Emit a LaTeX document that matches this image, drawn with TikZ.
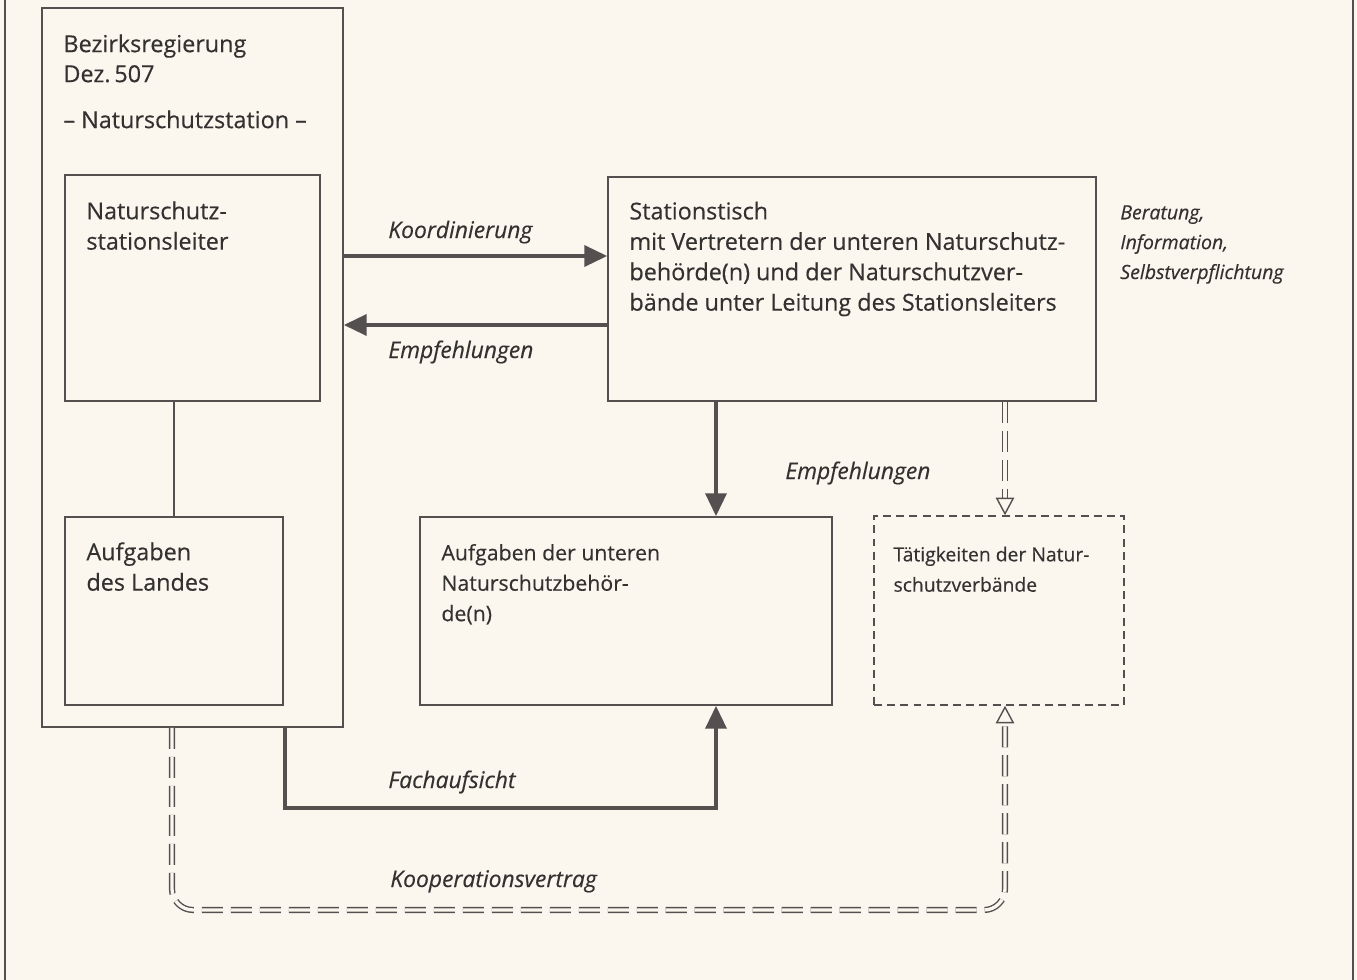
\documentclass[tikz,border=0pt]{standalone}
\usepackage{fontspec}
\setmainfont{Open Sans}[FakeBold=0.35]
\usepackage{tikz}
\usetikzlibrary{arrows.meta,calc,fit}

\definecolor{paper}{RGB}{251,246,238}
\definecolor{ink}{RGB}{52,49,49}
\definecolor{rule}{RGB}{84,80,80}

\tikzset{
  box/.style={draw=rule, line width=1pt, inner sep=0pt},
  dashbox/.style={box, line width=0.9pt, dash pattern=on 4.5pt off 3pt},
  txt/.style={anchor=base west, inner sep=0pt, text=ink, font=\fontsize{13.3}{17.3}\selectfont, align=left},
  smalltxt/.style={txt, font=\fontsize{12.1}{17.3}\selectfont},
  tinytxt/.style={txt, font=\fontsize{11}{17.3}\selectfont},
  lbl/.style={txt, font=\fontsize{13}{17.3}\selectfont\itshape},
  sidelbl/.style={txt, font=\fontsize{11.1}{17}\selectfont\itshape},
  arr/.style={draw=rule, line width=1.9pt, -{Triangle[length=13pt, width=12pt]}},
  dbl/.style={draw=rule, line width=0.8pt, double=paper, double distance=1.9pt,
    dash pattern=on 12pt off 4.5pt},
  openarr/.style={-{Triangle[open, length=10pt, width=10.5pt, line width=0.8pt]}}
}

\begin{document}
\begin{tikzpicture}[x=0.02cm, y=-0.02cm]
  % paper and frame
  \fill[paper] (0,0) rectangle (1357,980);
  \useasboundingbox (0,0) rectangle (1357,980);
  \draw[rule, line width=0.9pt] (5,0) -- (5,980);
  \draw[rule, line width=0.9pt] (1353,0) -- (1353,980);

  % boxes
  \node[box, fit={(42,8) (343,727)}] (bez) {};
  \node[box, fit={(65,175) (320,401)}] (leiter) {};
  \node[box, fit={(65,517) (283,705)}] (land) {};
  \node[box, fit={(608,177) (1096,401)}] (tisch) {};
  \node[box, fit={(420,517) (832,705)}] (unb) {};
  \node[dashbox, fit={(874,516) (1124,705)}] (verb) {};

  % texts (multi-line nodes sit on their last baseline)
  \node[txt] (bezt) at ($(bez.north west)+(22,45)$) {Bezirksregierung};
  \node[txt] (dezt) at ($(bez.north west)+(22,75)$) {Dez.\,507};
  \node[txt] (stat) at ($(bez.north west)+(22,121)$) {– Naturschutzstation –};
  \node[txt] (leitert) at ($(leiter.north west)+(22,75.5)$) {Naturschutz-\\stationsleiter};
  \node[txt] (landt) at ($(land.north west)+(22,74.5)$) {Aufgaben\\des Landes};
  \node[txt] (tischt) at ($(tisch.north west)+(22,134.5)$) {Stationstisch\\
    mit Vertretern der unteren Naturschutz-\\
    behörde(n) und der Naturschutzver-\\
    bände unter Leitung des Stationsleiters};
  \node[smalltxt] (unbt) at ($(unb.north west)+(22,105)$) {Aufgaben der unteren\\Naturschutzbehör-\\de(n)};
  \node[tinytxt] (verbt) at ($(verb.north west)+(20,76.5)$) {Tätigkeiten der Natur-\\schutzverbände};
  \node[sidelbl] (beratung) at (1120,279) {Beratung,\\Information,\\Selbstverpflichtung};

  % connectors
  \coordinate (ko) at ([yshift=0.66cm]tisch.west);
  \coordinate (em) at ([yshift=-0.72cm]tisch.west);
  \coordinate (e) at (716,0);
  \coordinate (fa) at (285,808);
  \coordinate (kv) at (172,910);
  \coordinate (v) at (1005,910);

  \draw[rule, line width=1pt] (land.north) -- (land.north |- leiter.south);
  \draw[arr] (ko -| bez.east) -- (ko);
  \draw[arr] (em) -- (em -| bez.east);
  \draw[arr] (tisch.south -| e) -- (unb.north -| e);
  \draw[arr] (bez.south -| fa) -- (fa) -| (unb.south -| e);
  \draw[dbl, openarr] (tisch.south -| v) -- (verb.north -| v);
  \draw[dbl, openarr, rounded corners=12pt] (bez.south -| kv) |- (v) -- (verb.south -| v);

  % labels
  \node[lbl] (koord) at (388,238) {Koordinierung};
  \node[lbl] (empf) at (388,358) {Empfehlungen};
  \node[lbl] (empf2) at (785,479) {Empfehlungen};
  \node[lbl] (fach) at (388,788) {Fachaufsicht};
  \node[lbl] (koop) at (390,887) {Kooperationsvertrag};
\end{tikzpicture}
\end{document}
